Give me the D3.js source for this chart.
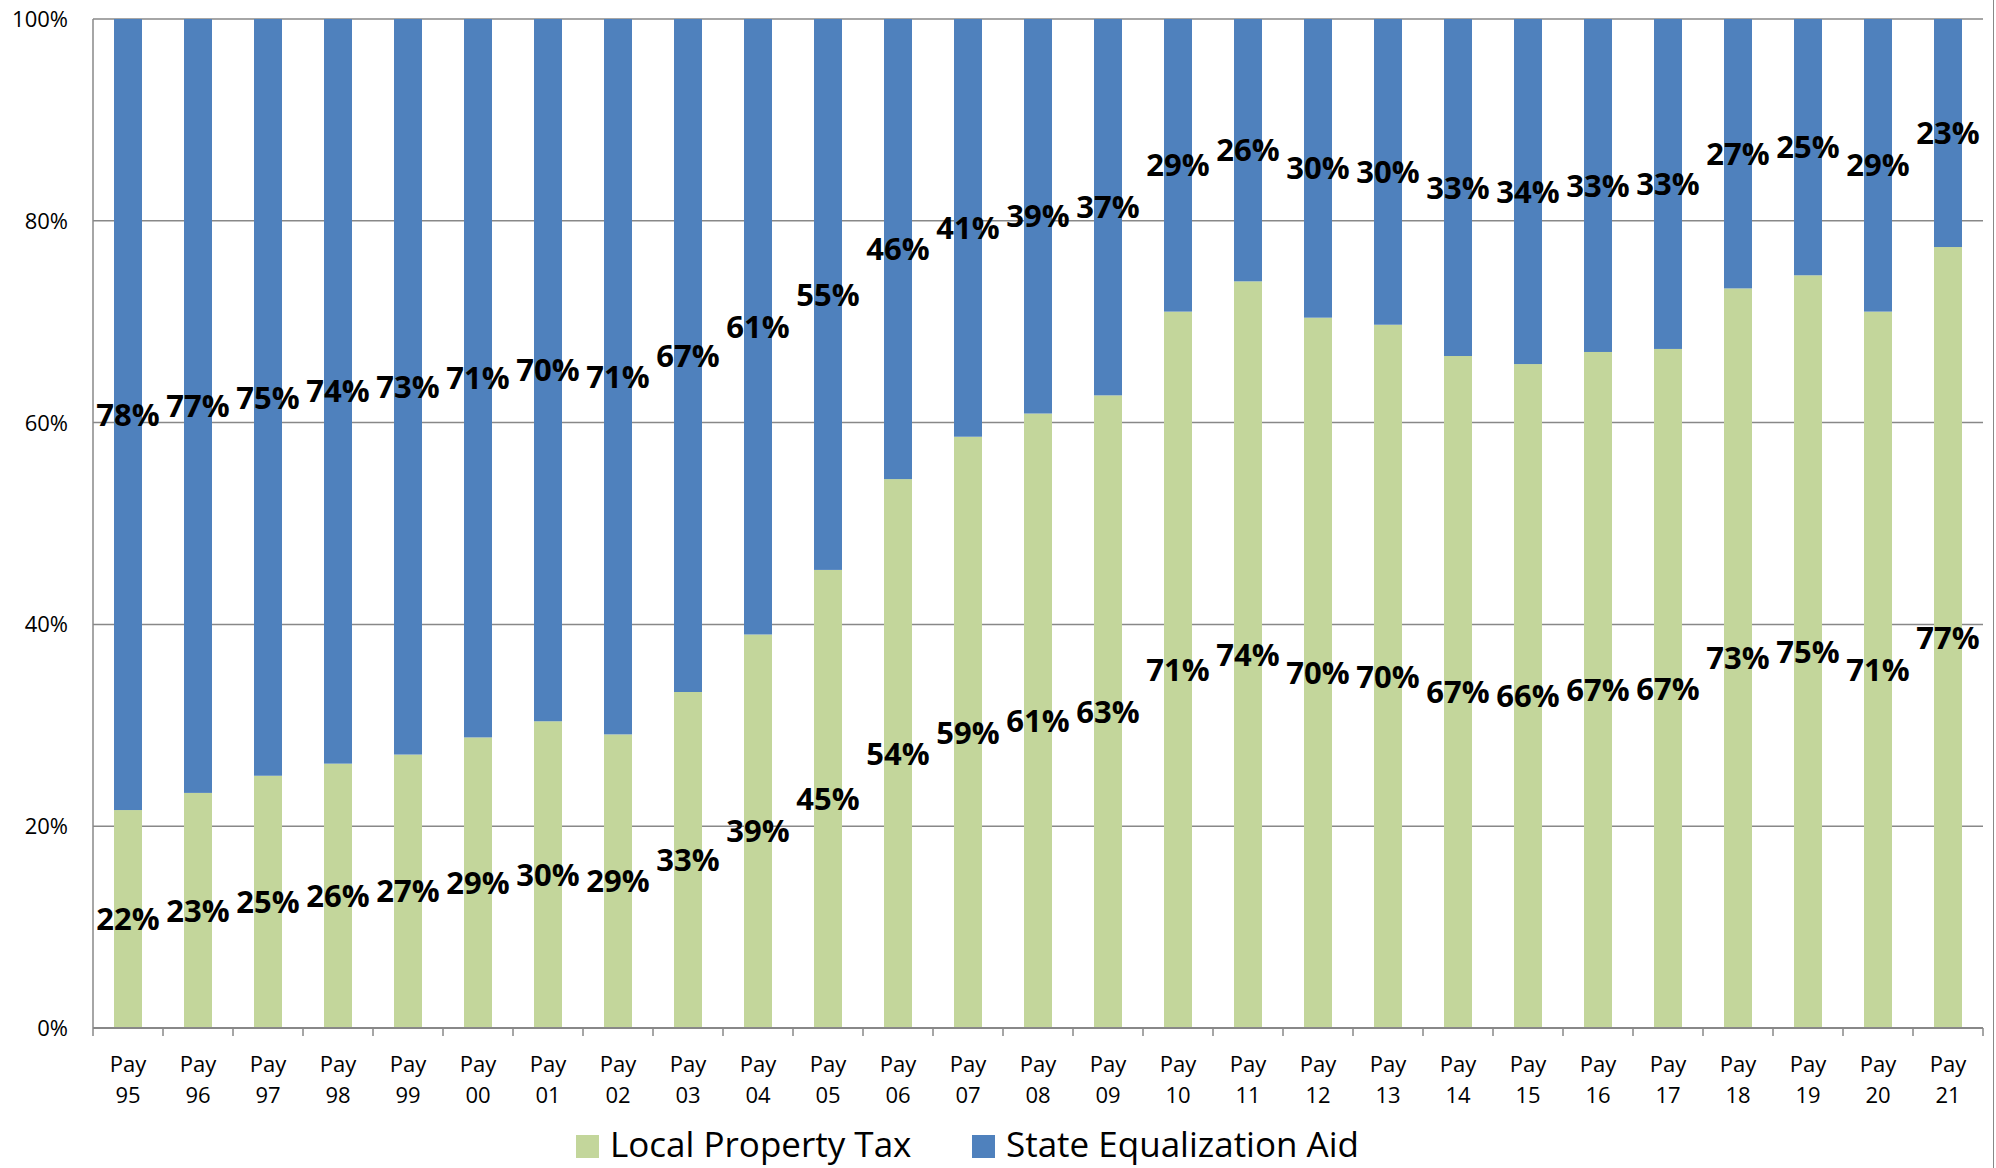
<!DOCTYPE html>
<html>
<head>
<meta charset="utf-8">
<script src="https://cdn.jsdelivr.net/npm/d3@7"></script>
<style>
  body { margin: 0; background: #fff; }
  text { font-family: "Open Sans", "Noto Sans", sans-serif; }
</style>
</head>
<body>
<div id="chart-area"></div>
<script>
// values
var years = ["95","96","97","98","99","00","01","02","03","04","05","06","07","08","09",
             "10","11","12","13","14","15","16","17","18","19","20","21"];
var localTax = [21.6,23.3,25.0,26.2,27.1,28.8,30.4,29.1,33.3,39.0,45.4,54.4,58.6,60.9,62.7,
                71.0,74.0,70.4,69.7,66.6,65.8,67.0,67.3,73.3,74.6,71.0,77.4];
var stateAid = [78.4,76.7,75.0,73.8,72.9,71.2,69.6,70.9,66.7,61.0,54.6,45.6,41.4,39.1,37.3,
                29.0,26.0,29.6,30.3,33.4,34.2,33.0,32.7,26.7,25.4,29.0,22.6];
var seriesNames = ["Local Property Tax", "State Equalization Aid"];
var colors = ["#c3d69b", "#4f81bd"];
var yTicks = [0, 20, 40, 60, 80, 100];

var W = 1996, H = 1168;
var margin = {top: 19, right: 13, bottom: 140, left: 93};
var width = W - margin.left - margin.right;
var height = H - margin.top - margin.bottom;

var svg = d3.select("#chart-area")
    .append("svg")
        .attr("width", W)
        .attr("height", H);

var g = svg.append("g")
    .attr("transform", "translate(" + margin.left + "," + margin.top + ")");

var data = years.map(function(y, i) {
    return {year: y, local: localTax[i], state: stateAid[i]};
});

var x = d3.scaleBand()
    .domain(years)
    .range([0, width])
    .paddingInner(0.6)
    .paddingOuter(0.3);

var y = d3.scaleLinear()
    .domain([0, 100])
    .range([height, 0]);

// gridlines
g.selectAll(".grid")
    .data(yTicks)
    .enter()
    .append("line")
        .attr("x1", 0)
        .attr("x2", width)
        .attr("y1", function(d) { return y(d); })
        .attr("y2", function(d) { return y(d); })
        .attr("stroke", "#888")
        .attr("stroke-width", 1.5);

// y labels
g.selectAll(".ylab")
    .data(yTicks)
    .enter()
    .append("text")
        .attr("x", -25)
        .attr("y", function(d) { return y(d); })
        .attr("dy", "0.36em")
        .attr("text-anchor", "end")
        .attr("font-size", "22px")
        .attr("fill", "#000")
        .text(function(d) { return d + "%"; });

// stacked bars
var stack = d3.stack().keys(["local", "state"]);
var layers = stack(data);

var layer = g.selectAll(".layer")
    .data(layers)
    .enter()
    .append("g")
        .attr("fill", function(d, i) { return colors[i]; });

layer.selectAll("rect")
    .data(function(d) { return d; })
    .enter()
    .append("rect")
        .attr("x", function(d) { return x(d.data.year); })
        .attr("width", x.bandwidth())
        .attr("y", function(d) { return y(d[1]); })
        .attr("height", function(d) { return y(d[0]) - y(d[1]); });

// axes lines
g.append("line")
    .attr("x1", 0).attr("x2", 0)
    .attr("y1", 0).attr("y2", height)
    .attr("stroke", "#888").attr("stroke-width", 1.5);

g.append("line")
    .attr("x1", 0).attr("x2", width)
    .attr("y1", height).attr("y2", height)
    .attr("stroke", "#888").attr("stroke-width", 2);

// tick marks at category boundaries
var bounds = d3.range(years.length + 1).map(function(i) { return i * x.step(); });
g.selectAll(".tick")
    .data(bounds)
    .enter()
    .append("line")
        .attr("x1", function(d) { return d; })
        .attr("x2", function(d) { return d; })
        .attr("y1", height)
        .attr("y2", height + 8)
        .attr("stroke", "#888")
        .attr("stroke-width", 1.5);

// x labels
var xl = g.selectAll(".xlab")
    .data(years)
    .enter()
    .append("text")
        .attr("text-anchor", "middle")
        .attr("font-size", "22px")
        .attr("fill", "#000")
        .attr("transform", function(d) {
            return "translate(" + (x(d) + x.bandwidth() / 2) + "," + (height + 44) + ")";
        });
xl.append("tspan").attr("x", 0).attr("y", 0).text("Pay");
xl.append("tspan").attr("x", 0).attr("y", 31).text(function(d) { return d; });

// data labels, centred in each segment
layer.selectAll(".lbl")
    .data(function(d) { return d; })
    .enter()
    .append("text")
        .attr("x", function(d) { return x(d.data.year) + x.bandwidth() / 2; })
        .attr("y", function(d) { return (y(d[0]) + y(d[1])) / 2; })
        .attr("dy", "0.36em")
        .attr("text-anchor", "middle")
        .attr("font-size", "31px")
        .attr("font-weight", "bold")
        .attr("fill", "#000")
        .text(function(d) { return Math.round(d[1] - d[0]) + "%"; });

// legend
var legend = svg.append("g")
    .attr("transform", "translate(576,1144)");
var legX = [0, 396];
seriesNames.forEach(function(name, i) {
    legend.append("rect")
        .attr("x", legX[i])
        .attr("y", -9)
        .attr("width", 23)
        .attr("height", 23)
        .attr("fill", colors[i]);
    legend.append("text")
        .attr("x", legX[i] + 34)
        .attr("y", 0)
        .attr("dy", "0.36em")
        .attr("font-size", "35px")
        .attr("fill", "#000")
        .text(name);
});

// frame edge on the right
svg.append("line")
    .attr("x1", 1993.5).attr("x2", 1993.5)
    .attr("y1", 0).attr("y2", H)
    .attr("stroke", "#888")
    .attr("stroke-width", 1);
</script>
</body>
</html>
